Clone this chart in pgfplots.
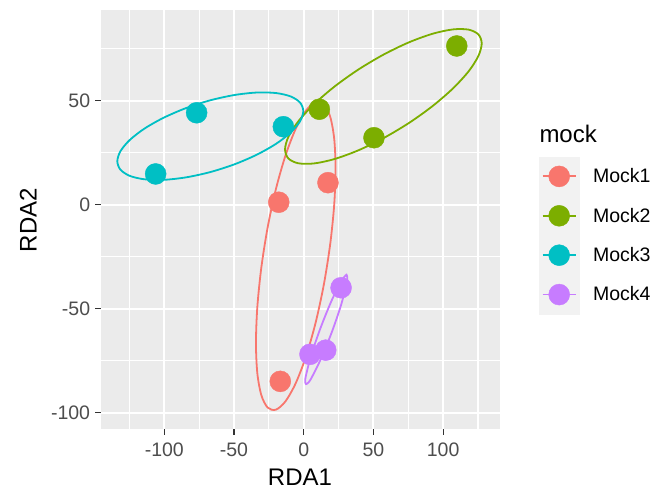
\documentclass[border=0pt]{standalone}
\usepackage{fontspec}
\setmainfont{Liberation Sans}
\usepackage{pgfplots}
\pgfplotsset{compat=1.18}
\usetikzlibrary{calc}
\definecolor{panel}{HTML}{EBEBEB}
\definecolor{keybg}{HTML}{F2F2F2}
\definecolor{labgray}{HTML}{4D4D4D}
\definecolor{tickgray}{HTML}{333333}
\definecolor{mockred}{HTML}{F8766D}
\definecolor{mockgreen}{HTML}{7CAE00}
\definecolor{mockcyan}{HTML}{00BFC4}
\definecolor{mockpurple}{HTML}{C77CFF}
\pgfplotsset{
  keyimg/.style={legend image code/.code={
    \fill[keybg] (0bp,-19.5bp) rectangle (40bp,19.5bp);
    \draw[#1, line width=1.8bp] (3.5bp,0bp) -- (36.5bp,0bp);
    \fill[#1] (20bp,0bp) circle (10.5bp);}},
  ell/.style={#1, line width=1.8bp, smooth cycle, forget plot},
}

\begin{document}
\begin{tikzpicture}
\begin{axis}[
  name=ax, scale only axis, width=399bp, height=419bp,
  xmin=-145.4, xmax=140.8, ymin=-107.8, ymax=93.6,
  clip=false,
  axis background/.style={fill=panel},
  axis line style={draw=none},
  xtick={-100,-50,0,50,100}, xticklabels={-100,-50,0,50,100},
  ytick={-100,-50,0,50}, yticklabels={-100,-50,0,50},
  minor xtick={-125,-75,-25,25,75,125}, minor ytick={-75,-25,25,75},
  grid=both,
  major grid style={white, line width=2.1bp},
  minor grid style={white, line width=1.05bp},
  tick align=outside, xtick pos=left, ytick pos=left,
  major tick length=5.5bp, minor tick length=0pt,
  tick style={tickgray, line width=1.07bp},
  ticklabel style={font=\fontsize{19.5bp}{22bp}\selectfont, text=labgray, inner sep=0pt},
  xticklabel style={anchor=north},
  yticklabel style={anchor=east},
  xticklabel shift=7.8bp, yticklabel shift=5.2bp,
  xlabel={RDA1}, ylabel={RDA2},
  every axis x label/.style={at={(axis description cs:0.4987,-0.1337)}, anchor=base,
    font=\fontsize{24bp}{28bp}\selectfont, inner sep=0pt},
  every axis y label/.style={at={(axis description cs:-0.1612,0.4988)}, anchor=base, rotate=90,
    font=\fontsize{24bp}{28bp}\selectfont, inner sep=0pt},
  legend style={at={(axis description cs:1.0977,0.6499)}, anchor=north west,
    draw=none, fill=none, inner sep=0pt, outer sep=0pt, row sep=0pt, column sep=13.7bp,
    font=\fontsize{19.5bp}{22bp}\selectfont, nodes={inner sep=0pt, text=black}},
  legend cell align=left,
]
% points
\addplot[only marks, mark=*, mark size=10.5bp, color=mockred, keyimg=mockred]
  coordinates {(-17.9,1.2) (17.4,10.6) (-16.8,-84.9)};
\addplot[only marks, mark=*, mark size=10.5bp, color=mockgreen, keyimg=mockgreen]
  coordinates {(109.8,76.3) (11.2,45.9) (50.4,32.2)};
\addplot[only marks, mark=*, mark size=10.5bp, color=mockcyan, keyimg=mockcyan]
  coordinates {(-76.8,44.2) (-14.6,37.5) (-106.2,14.8)};
\addplot[only marks, mark=*, mark size=10.5bp, color=mockpurple, keyimg=mockpurple]
  coordinates {(26.8,-39.9) (15.8,-69.9) (4.5,-71.9)};
\legend{Mock1,Mock2,Mock3,Mock4}
% ellipses
\addplot[ell=mockred] coordinates {
  (22.85,17.32) (21.88,31.72) (19.02,42.28) (14.49,48.28) (8.58,49.32) (1.69,45.32)
  (-5.70,36.55) (-13.09,23.62) (-19.98,7.40) (-25.89,-11.00) (-30.42,-30.32) (-33.28,-49.26)
  (-34.25,-66.52) (-33.28,-80.92) (-30.42,-91.48) (-25.89,-97.48) (-19.98,-98.52) (-13.09,-94.52)
  (-5.70,-85.75) (1.69,-72.82) (8.58,-56.60) (14.49,-38.20) (19.02,-18.88) (21.88,0.06)};
\addplot[ell=mockgreen] coordinates {
  (127.70,77.55) (125.29,81.87) (118.25,84.17) (107.04,84.27) (92.43,82.18) (75.41,78.04)
  (57.15,72.12) (38.89,64.84) (21.87,56.68) (7.26,48.21) (-3.95,40.01) (-10.99,32.61)
  (-13.40,26.55) (-10.99,22.23) (-3.95,19.93) (7.26,19.83) (21.87,21.92) (38.89,26.06)
  (57.15,31.98) (75.41,39.26) (92.43,47.42) (107.04,55.89) (118.25,64.09) (125.29,71.49)};
\addplot[ell=mockcyan] coordinates {
  (-0.30,45.02) (-2.57,49.07) (-9.24,52.03) (-19.84,53.68) (-33.65,53.93) (-49.74,52.73)
  (-67.00,50.20) (-84.26,46.49) (-100.35,41.85) (-114.16,36.62) (-124.76,31.13) (-131.43,25.75)
  (-133.70,20.88) (-131.43,16.83) (-124.76,13.87) (-114.16,12.22) (-100.35,11.97) (-84.26,13.17)
  (-67.00,15.70) (-49.74,19.41) (-33.65,24.05) (-19.84,29.28) (-9.24,34.77) (-2.57,40.15)};
\addplot[ell=mockpurple] coordinates {
  (30.70,-33.65) (31.26,-35.19) (30.77,-37.64) (26.93,-47.93) (20.22,-61.13) (12.37,-74.04)
  (5.60,-83.22) (3.19,-85.57) (1.65,-86.20) (1.10,-85.05) (1.58,-82.21) (5.38,-72.29)
  (12.14,-59.11) (19.94,-46.20) (26.66,-37.02) (29.17,-34.67)};
\end{axis}
\node[anchor=base west, inner sep=0pt, font=\fontsize{24bp}{28bp}\selectfont]
  at ($(ax.north east)+(39.3bp,-132.3bp)$) {mock};
\pgfresetboundingbox
\useasboundingbox ($(ax.south west)+(-101bp,-60bp)$) rectangle ($(ax.north east)+(168bp,10bp)$);
\end{tikzpicture}
\end{document}
